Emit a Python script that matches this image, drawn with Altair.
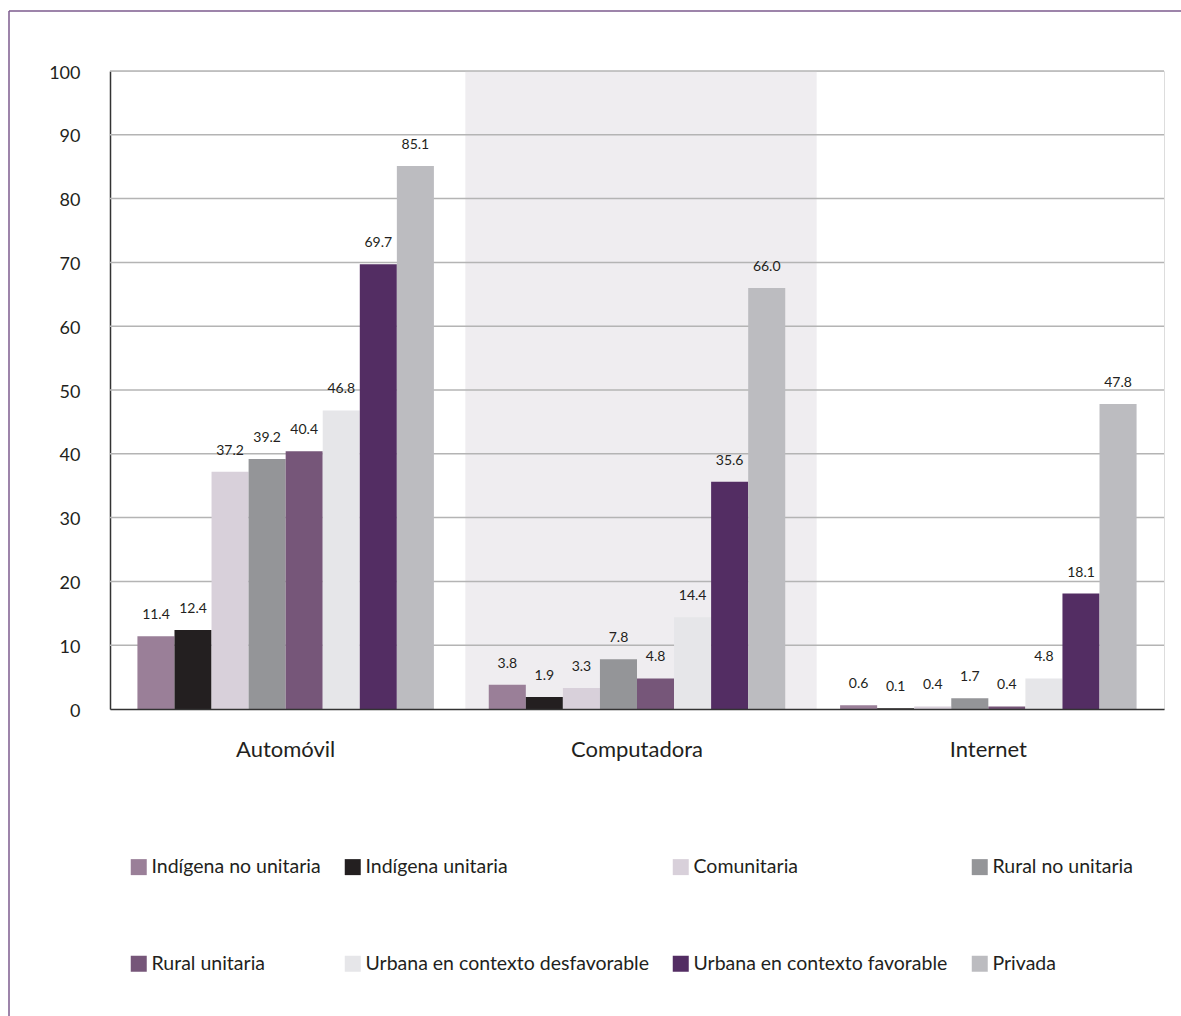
import altair as alt
import pandas as pd

categories = ["Automóvil", "Computadora", "Internet"]
series = [
    "Indígena no unitaria",
    "Indígena unitaria",
    "Comunitaria",
    "Rural no unitaria",
    "Rural unitaria",
    "Urbana en contexto desfavorable",
    "Urbana en contexto favorable",
    "Privada",
]
colors = ["#9a7f98", "#231f20", "#d8d0da", "#949598", "#765679", "#e6e6e9", "#532d63", "#bcbcc0"]
automovil = [11.4, 12.4, 37.2, 39.2, 40.4, 46.8, 69.7, 85.1]
computadora = [3.8, 1.9, 3.3, 7.8, 4.8, 14.4, 35.6, 66.0]
internet = [0.6, 0.1, 0.4, 1.7, 0.4, 4.8, 18.1, 47.8]
y_ticks = [10, 20, 30, 40, 50, 60, 70, 80, 90, 100]
shaded = ["Computadora"]

W, H = 1054, 638
FONT = "Lato"

rows = []
for cat, vals in zip(categories, [automovil, computadora, internet]):
    for s, v in zip(series, vals):
        rows.append({"cat": cat, "serie": s, "v": v})
df = pd.DataFrame(rows)

xscale = alt.Scale(domain=categories, paddingInner=0, paddingOuter=0)
xoff = alt.Scale(domain=series, paddingInner=0, paddingOuter=0.74)
yscale = alt.Scale(domain=[0, 100], nice=False)

band = alt.Chart(pd.DataFrame({"cat": shaded})).mark_rect(color="#efedf0", xOffset=4).encode(
    x=alt.X("cat:N", scale=xscale, sort=categories,
            axis=alt.Axis(title=None, labelAngle=0, labelFontSize=22, labelPadding=30,
                          ticks=False, domainColor="#333333", domainWidth=1.5,
                          labelColor="#231f20", labelFont=FONT)),
    y=alt.value(0), y2=alt.value(H),
)

grid = alt.Chart(pd.DataFrame({"t": y_ticks})).mark_rule(color="#b4b4b4", strokeWidth=1.5).encode(
    y=alt.Y("t:Q", scale=yscale,
            axis=alt.Axis(title=None, values=list(range(0, 101, 10)), grid=False, ticks=False,
                          domainColor="#333333", domainWidth=1.5, labelFontSize=18,
                          labelPadding=30, labelColor="#231f20", labelFont=FONT, labelBaseline="middle",
                          labelOffset=2)),
    x=alt.value(0), x2=alt.value(W),
)

bars = alt.Chart(df).mark_bar(strokeWidth=0).encode(
    x=alt.X("cat:N", scale=xscale, sort=categories),
    xOffset=alt.XOffset("serie:N", scale=xoff, sort=series),
    y=alt.Y("v:Q", scale=yscale),
    color=alt.Color("serie:N", sort=series,
                    scale=alt.Scale(domain=series, range=colors),
                    legend=alt.Legend(title=None, orient="none", legendX=19, legendY=786,
                                      direction="horizontal",
                                      columns=4, columnPadding=22, rowPadding=76,
                                      symbolType="square", symbolSize=256, symbolStrokeWidth=0,
                                      labelFontSize=19.5, labelFont=FONT, labelColor="#231f20",
                                      labelLimit=400, labelOffset=3)),
)

labels = alt.Chart(df).mark_text(fontSize=14, font=FONT, color="#231f20", baseline="middle", dy=-21).encode(
    x=alt.X("cat:N", scale=xscale, sort=categories),
    xOffset=alt.XOffset("serie:N", scale=xoff, sort=series),
    y=alt.Y("v:Q", scale=yscale),
    text=alt.Text("v:Q", format=".1f"),
)

frame_left = alt.Chart(pd.DataFrame({"a": [0]})).mark_rule(color="#7d5b8e", strokeWidth=1.5).encode(
    x=alt.value(-101), y=alt.value(-60), y2=alt.value(H + 320),
)
frame_top = alt.Chart(pd.DataFrame({"a": [0]})).mark_rule(color="#7d5b8e", strokeWidth=1.5).encode(
    x=alt.value(-101), x2=alt.value(W + 20), y=alt.value(-60),
)

chart = alt.layer(band, grid, bars, labels, frame_left, frame_top).properties(
    width=W, height=H,
    autosize=alt.AutoSizeParams(type="none"),
    padding={"left": 110, "top": 71, "right": 17, "bottom": 307},
).configure_view(stroke=None).configure(background="white")

chart.save("out.html", embed_options={"renderer": "svg", "actions": False})
